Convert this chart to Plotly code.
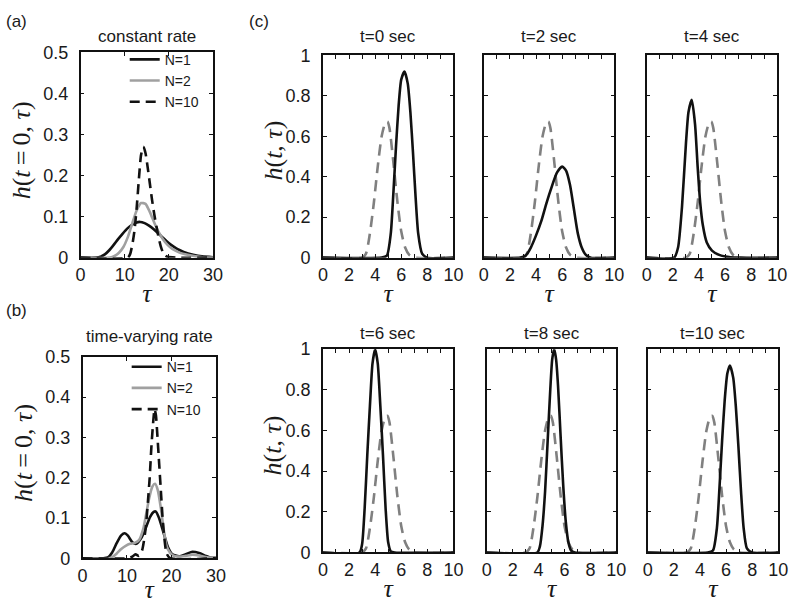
import plotly.graph_objects as go

# ---------------- data ----------------
# Panel (a): constant rate, h(t=0, tau)
tau_a_n1 = [0, 3.5, 4.5, 5.5, 6.5, 7.5, 8.5, 9.5, 10.5, 11.5, 12.5, 13.5, 14.5, 15.5, 16.5, 17.5,
            18.5, 19.5, 20.5, 21.5, 22.5, 23.5, 25.5, 27.5, 30]
h_a_n1 = [0, 0, 0.002, 0.008, 0.018, 0.031, 0.045, 0.058, 0.07, 0.079, 0.085, 0.087, 0.084, 0.078,
          0.07, 0.06, 0.05, 0.04, 0.031, 0.024, 0.018, 0.013, 0.007, 0.003, 0.001]
tau_a_n2 = [0, 6.7, 7.7, 8.7, 9.7, 10.7, 11.7, 12.7, 13.7, 14.7, 15.7, 16.7, 17.7, 18.7, 19.7, 20.7,
            21.7, 22.7, 23.7, 25.7, 27.7, 30]
h_a_n2 = [0, 0, 0.004, 0.012, 0.026, 0.05, 0.083, 0.115, 0.133, 0.131, 0.111, 0.085, 0.062, 0.044,
          0.031, 0.022, 0.016, 0.011, 0.008, 0.004, 0.001, 0]
tau_a_n10 = [0, 10.7, 11.2, 11.7, 12.2, 12.7, 13.2, 13.7, 14.2, 14.7, 15.2, 15.7, 16.2, 16.7, 17.2,
             17.7, 18.2, 18.7, 19.2, 19.7, 22, 30]
h_a_n10 = [0, 0, 0.008, 0.03, 0.065, 0.12, 0.19, 0.25, 0.27, 0.255, 0.22, 0.18, 0.14, 0.105, 0.075,
           0.048, 0.026, 0.012, 0.005, 0.002, 0, 0]

# Panel (b): time-varying rate, h(t=0, tau)
tau_b_n1 = [0, 4.7, 5.7, 6.7, 7.7, 8.7, 9.5, 10.2, 11.2, 12.1, 13.2, 14.2, 15.2, 16.0, 16.5, 17.2,
            18.2, 19.2, 20.2, 21.7, 23.2, 24.7, 26.2, 27.7, 28.7, 30]
h_b_n1 = [0, 0, 0.002, 0.015, 0.038, 0.057, 0.062, 0.056, 0.04, 0.036, 0.05, 0.075, 0.103, 0.115,
          0.116, 0.1, 0.064, 0.028, 0.01, 0.005, 0.01, 0.016, 0.013, 0.006, 0.002, 0.001]
tau_b_n2 = [0, 5.7, 6.7, 7.7, 8.7, 9.7, 10.7, 11.7, 12.7, 13.7, 14.3, 15.0, 15.7, 16.3, 16.9, 17.6,
            18.2, 18.7, 19.2, 20.2, 21.7, 23.2, 24.7, 26.2, 27.7, 30]
h_b_n2 = [0, 0, 0.003, 0.012, 0.023, 0.031, 0.036, 0.038, 0.045, 0.075, 0.109, 0.15, 0.178, 0.185,
          0.17, 0.125, 0.075, 0.04, 0.022, 0.008, 0.004, 0.006, 0.009, 0.007, 0.003, 0]
tau_b_n10 = [0, 10.2, 11.2, 11.9, 12.7, 13.4, 13.9, 14.3, 14.7, 15.1, 15.5, 15.9, 16.2, 16.5, 16.8,
             17.2, 17.6, 18.0, 18.4, 18.9, 19.7, 30]
h_b_n10 = [0, 0, 0.004, 0.01, 0.006, 0.02, 0.05, 0.085, 0.14, 0.2, 0.28, 0.34, 0.37, 0.355, 0.31,
           0.24, 0.17, 0.1, 0.05, 0.012, 0, 0]

# Panel (c): h(t, tau) at several times (black) and the t=0 reference (grey dashed)
tau_ref = [0, 3.0, 3.3, 3.6, 3.9, 4.2, 4.5, 4.8, 4.95, 5.1, 5.4, 5.7, 6.0, 6.3, 6.6, 7.0, 10]
h_ref = [0, 0, 0.02, 0.12, 0.27, 0.45, 0.6, 0.67, 0.672, 0.64, 0.47, 0.28, 0.13, 0.05, 0.015, 0, 0]

tau_t0 = [0, 4.5, 4.9, 5.2, 5.4, 5.6, 5.8, 6.0, 6.25, 6.5, 6.7, 6.9, 7.1, 7.3, 7.6, 8, 10]
h_t0 = [0, 0, 0.01, 0.12, 0.32, 0.55, 0.75, 0.88, 0.92, 0.86, 0.72, 0.52, 0.3, 0.12, 0.02, 0, 0]
tau_t2 = [0, 2.8, 3.2, 3.6, 4.0, 4.4, 4.8, 5.2, 5.6, 6.0, 6.3, 6.6, 6.9, 7.2, 7.5, 7.8, 8.2, 10]
h_t2 = [0, 0, 0.01, 0.05, 0.11, 0.18, 0.27, 0.35, 0.42, 0.45, 0.43, 0.36, 0.24, 0.12, 0.05, 0.015, 0, 0]
tau_t4 = [0, 2.1, 2.4, 2.7, 3.0, 3.2, 3.45, 3.7, 3.9, 4.1, 4.3, 4.6, 5.0, 5.5, 6.0, 7, 10]
h_t4 = [0, 0, 0.05, 0.25, 0.56, 0.72, 0.78, 0.66, 0.45, 0.27, 0.16, 0.075, 0.035, 0.015, 0.006, 0, 0]
tau_t6 = [0, 2.8, 3.0, 3.2, 3.4, 3.6, 3.8, 4.0, 4.2, 4.4, 4.6, 4.8, 5.0, 5.2, 5.5, 10]
h_t6 = [0, 0, 0.04, 0.22, 0.48, 0.72, 0.93, 1.0, 0.93, 0.72, 0.48, 0.22, 0.05, 0.005, 0, 0]
tau_t8 = [0, 3.9, 4.1, 4.3, 4.5, 4.7, 4.9, 5.05, 5.2, 5.35, 5.5, 5.7, 5.9, 6.1, 6.3, 6.5, 6.8, 10]
h_t8 = [0, 0, 0.03, 0.13, 0.3, 0.55, 0.8, 0.95, 1.0, 0.95, 0.82, 0.57, 0.33, 0.15, 0.05, 0.01, 0, 0]
tau_t10 = [0, 4.6, 5.0, 5.3, 5.5, 5.7, 5.9, 6.1, 6.3, 6.55, 6.75, 6.95, 7.15, 7.35, 7.6, 8, 10]
h_t10 = [0, 0, 0.01, 0.12, 0.32, 0.55, 0.75, 0.88, 0.92, 0.86, 0.72, 0.52, 0.3, 0.12, 0.02, 0, 0]

legend_labels = ["N=1", "N=2", "N=10"]
time_titles = ["t=0 sec", "t=2 sec", "t=4 sec", "t=6 sec", "t=8 sec", "t=10 sec"]
panel_c_curves = [(tau_t0, h_t0), (tau_t2, h_t2), (tau_t4, h_t4),
                  (tau_t6, h_t6), (tau_t8, h_t8), (tau_t10, h_t10)]

# ---------------- styling ----------------
W, H = 800, 604
BLACK = "#111111"
GREY_N2 = "#a0a0a0"
GREY_REF = "#808080"
SANS = "Liberation Sans, Arial, sans-serif"
SERIF = "Liberation Serif, Times New Roman, serif"
TEXT = "#1a1a1a"
THIN = "\u2009"

def px_dom_x(a, b):
    return [a / W, b / W]

def px_dom_y(top, bottom):
    return [1 - bottom / H, 1 - top / H]

# pixel boxes: (left, right, top, bottom)
boxes = {
    1: (77, 212, 44, 257),    # (a)
    2: (79, 215, 360, 569),   # (b)
    3: (324, 457, 47, 257),   # t=0
    4: (488, 621, 47, 257),   # t=2
    5: (654, 787, 47, 257),   # t=4
    6: (324, 457, 352, 563),  # t=6
    7: (491, 623, 352, 563),  # t=8
    8: (655, 788, 352, 563),  # t=10
}

fig = go.Figure()

def add_line(x, y, k, color, dash="solid", name=None, legend=None, showlegend=False, width=2.6):
    fig.add_trace(go.Scatter(
        x=x, y=y, mode="lines", name=name,
        line=dict(color=color, width=width, dash=dash, shape="spline", smoothing=0.6),
        xaxis="x" if k == 1 else f"x{k}", yaxis="y" if k == 1 else f"y{k}",
        showlegend=showlegend, legend=legend, hoverinfo="skip"))

# panel (a)
add_line(tau_a_n1, h_a_n1, 1, BLACK, name=legend_labels[0], legend="legend", showlegend=True)
add_line(tau_a_n2, h_a_n2, 1, GREY_N2, name=legend_labels[1], legend="legend", showlegend=True)
add_line(tau_a_n10, h_a_n10, 1, BLACK, dash="10px,6px", name=legend_labels[2], legend="legend", showlegend=True)
# panel (b)
add_line(tau_b_n1, h_b_n1, 2, BLACK, name=legend_labels[0], legend="legend2", showlegend=True)
add_line(tau_b_n2, h_b_n2, 2, GREY_N2, name=legend_labels[1], legend="legend2", showlegend=True)
add_line(tau_b_n10, h_b_n10, 2, BLACK, dash="10px,6px", name=legend_labels[2], legend="legend2", showlegend=True)
# panel (c)
for i, (tx, hy) in enumerate(panel_c_curves):
    k = 3 + i
    add_line(tau_ref, h_ref, k, GREY_REF, dash="11px,7px")
    add_line(tx, hy, k, BLACK)

tickfont = dict(family=SANS, size=18, color=TEXT)
title_font = dict(family=SERIF, size=26, color=TEXT)

def base_axis():
    return dict(showline=True, linecolor=BLACK, linewidth=1.5, mirror="allticks",
                ticks="inside", ticklen=4, tickwidth=1, tickcolor=BLACK,
                showgrid=False, zeroline=False, tickfont=tickfont, fixedrange=True)

layout = dict(width=W, height=H, margin=dict(l=0, r=0, t=0, b=0),
              paper_bgcolor="white", plot_bgcolor="white", showlegend=True)

for k, (l, r, t, b) in boxes.items():
    xs = "xaxis" if k == 1 else f"xaxis{k}"
    ys = "yaxis" if k == 1 else f"yaxis{k}"
    xa = base_axis()
    ya = base_axis()
    xa["domain"] = px_dom_x(l, r)
    ya["domain"] = px_dom_y(t, b)
    xa["anchor"] = "y" if k == 1 else f"y{k}"
    ya["anchor"] = "x" if k == 1 else f"x{k}"
    xa["title"] = dict(text="<i>τ</i>", font=title_font, standoff=0)
    xa["ticklabelstandoff"] = 0
    ya["ticklabelstandoff"] = 7
    if k in (1, 2):
        xa.update(range=[0, 30], tickvals=[0, 10, 20, 30])
        ya.update(range=[0, 0.5], tickvals=[0, 0.1, 0.2, 0.3, 0.4, 0.5])
    else:
        xa.update(range=[0, 10], tickvals=[0, 2, 4, 6, 8, 10],
                  minor=dict(tickvals=[1, 3, 5, 7, 9], ticks="inside", ticklen=4, tickcolor=BLACK))
        ya.update(range=[0, 1], tickvals=[0, 0.2, 0.4, 0.6, 0.8, 1])
        if k not in (3, 6):
            ya["showticklabels"] = False
    layout[xs] = xa
    layout[ys] = ya

legfont = dict(family=SANS, size=14, color=TEXT)
layout["legend"] = dict(x=122 / W, y=1 - 35 / H, xanchor="left", yanchor="top",
                        bgcolor="rgba(0,0,0,0)", font=legfont, itemwidth=30, tracegroupgap=0)
layout["legend2"] = dict(x=124 / W, y=1 - 354 / H, xanchor="left", yanchor="top",
                         bgcolor="rgba(0,0,0,0)", font=legfont, itemwidth=30, tracegroupgap=0)

ann = []
def label(text, x, y, size=17, family=SANS, angle=0):
    ann.append(dict(text=text, x=x / W, y=1 - y / H, xref="paper", yref="paper",
                    showarrow=False, xanchor="center", yanchor="middle", textangle=angle,
                    font=dict(family=family, size=size, color=TEXT)))

label("(a)", 12, 12, 17)
label("(b)", 12, 312, 17)
label("(c)", 259, 12, 17)
label("constant rate", 145, 28, 17)
label("time-varying rate", 147, 339, 17)
for i, tt in enumerate(time_titles):
    l, r, t, b = boxes[3 + i]
    label(tt, (l + r) / 2, t - (19 if i < 3 else 16), 17)

# y-axis titles
ya_title_a = f"<i>h</i>(<i>t</i>{THIN}={THIN}0, <i>τ</i>)"
ya_title_c = "<i>h</i>(<i>t</i>, <i>τ</i>)"
label(ya_title_a, 17, 146, 26, SERIF, -90)
label(ya_title_a, 19, 460, 26, SERIF, -90)
label(ya_title_c, 274, 146, 26, SERIF, -90)
label(ya_title_c, 273, 452, 26, SERIF, -90)
layout["annotations"] = ann

fig.update_layout(**layout)
fig.write_html("out.html", config={"displayModeBar": False},
               post_script="document.body.style.margin='0px';")
